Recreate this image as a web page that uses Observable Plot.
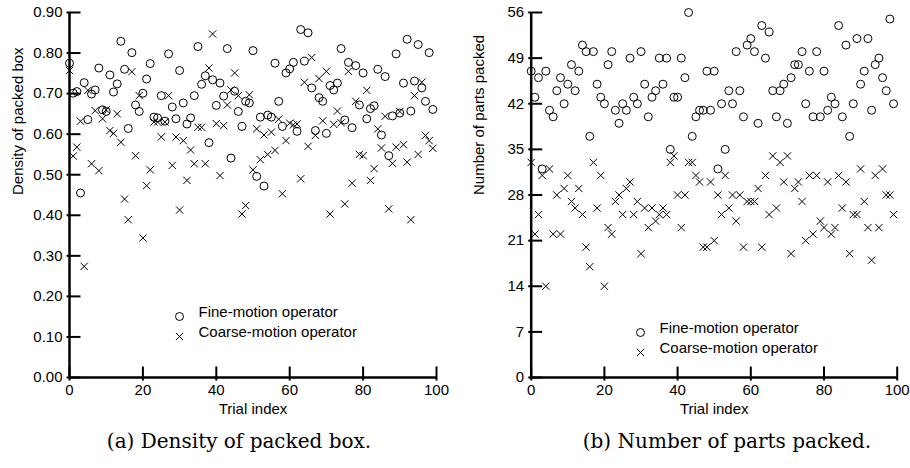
<!DOCTYPE html>
<html><head><meta charset="utf-8">
<script src="https://cdn.jsdelivr.net/npm/d3@7"></script>
<script src="https://cdn.jsdelivr.net/npm/@observablehq/plot@0.6"></script>
<style>
body{margin:0;background:#fff;}
#wrap{position:relative;width:910px;height:468px;overflow:hidden;background:#fff;}
.panel{position:absolute;top:0;}
.cap{position:absolute;top:429px;font-family:"DejaVu Serif",serif;font-size:20px;line-height:24px;white-space:nowrap;transform:translateX(-50%);color:#000;}
</style></head>
<body>
<div id="wrap">
  <div id="pa" class="panel" style="left:0"></div>
  <div id="pb" class="panel" style="left:455px"></div>
  <div class="cap" style="left:239px">(a) Density of packed box.</div>
  <div class="cap" style="left:727px">(b) Number of parts packed.</div>
</div>
<script>
// ---- data ----
const trialIndex = [0,1,2,3,4,5,6,7,8,9,10,11,12,13,14,15,16,17,18,19,20,21,22,23,24,25,26,27,28,29,30,31,32,33,34,35,36,37,38,39,40,41,42,43,44,45,46,47,48,49,50,51,52,53,54,55,56,57,58,59,60,61,62,63,64,65,66,67,68,69,70,71,72,73,74,75,76,77,78,79,80,81,82,83,84,85,86,87,88,89,90,91,92,93,94,95,96,97,98,99];

const densityFine = [
 0.775,0.701,0.705,0.455,0.727,0.636,0.699,0.709,0.763,0.660,
 0.656,0.746,0.704,0.724,0.829,0.760,0.614,0.801,0.672,0.656,
 0.701,0.736,0.774,0.642,0.640,0.695,0.632,0.798,0.667,0.638,
 0.757,0.677,0.625,0.640,0.695,0.816,0.723,0.744,0.579,0.734,
 0.671,0.726,0.694,0.811,0.541,0.706,0.656,0.619,0.681,0.677,
 0.806,0.496,0.642,0.472,0.647,0.642,0.775,0.681,0.619,0.751,
 0.761,0.777,0.607,0.858,0.780,0.850,0.714,0.609,0.690,0.681,
 0.602,0.720,0.709,0.726,0.811,0.635,0.777,0.616,0.769,0.672,
 0.751,0.638,0.663,0.670,0.760,0.598,0.742,0.547,0.645,0.798,
 0.652,0.726,0.834,0.657,0.731,0.821,0.714,0.681,0.801,0.661];

const densityCoarse = [
 0.757,0.546,0.568,0.632,0.274,0.708,0.527,0.658,0.510,0.638,
 0.660,0.609,0.602,0.650,0.580,0.440,0.389,0.754,0.547,0.695,
 0.344,0.473,0.512,0.630,0.630,0.593,0.630,0.695,0.523,0.593,
 0.413,0.584,0.486,0.561,0.527,0.617,0.617,0.527,0.763,0.847,
 0.626,0.498,0.621,0.672,0.709,0.751,0.695,0.403,0.424,0.697,
 0.512,0.613,0.537,0.598,0.550,0.605,0.560,0.637,0.453,0.584,
 0.627,0.623,0.625,0.490,0.728,0.570,0.789,0.597,0.737,0.633,
 0.755,0.403,0.624,0.657,0.628,0.428,0.755,0.479,0.681,0.550,
 0.547,0.708,0.486,0.515,0.613,0.566,0.644,0.416,0.528,0.568,
 0.656,0.574,0.531,0.389,0.695,0.550,0.728,0.597,0.584,0.565];

const partsFine = [
 47,43,46,32,47,41,40,44,46,42,
 45,48,44,47,51,50,37,50,45,43,
 42,48,50,41,39,42,41,49,43,42,
 50,45,40,43,44,49,45,49,35,43,
 43,49,46,56,37,40,41,41,47,41,
 47,32,42,35,44,42,50,44,40,51,
 52,50,39,54,49,53,44,40,44,45,
 39,46,48,48,50,42,47,40,50,40,
 47,41,43,42,54,40,51,37,42,52,
 45,47,52,41,48,49,46,44,55,42];

const partsCoarse = [
 33,22,25,31,14,32,22,28,22,29,
 31,27,26,29,25,20,17,33,26,31,
 14,23,22,27,28,25,29,30,25,27,
 19,26,23,26,24,25,26,25,33,34,
 28,23,28,33,33,31,30,20,20,30,
 21,28,25,31,26,28,24,28,20,27,
 27,27,29,20,31,25,34,26,33,30,
 34,19,29,30,27,21,31,22,31,24,
 23,30,22,23,31,26,30,19,25,25,
 32,27,23,18,31,23,32,28,28,25];

const xTicks = [0,20,40,60,80,100];
const densityTicks = [0,0.1,0.2,0.3,0.4,0.5,0.6,0.7,0.8,0.9];
const partsTicks = [0,7,14,21,28,35,42,49,56];
const legendLabels = ["Fine-motion operator","Coarse-motion operator"];
const xTitle = "Trial index";
const yTitleA = "Density of packed box";
const yTitleB = "Number of parts packed";

// ---- drawing ----
const W = 455, H = 425, MT = 12, MB = 48, TICK = 11, OUT = 3;

function panel({fine, coarse, yDomain, yTicks, yFormat, yTitle, mLeft, mRight, titleDx, legDx, legDy1, legDy2, textDx}) {
  const rows = trialIndex.map((t, i) => ({t, fine: fine[i], coarse: coarse[i]}));
  const xDomain = [xTicks[0], xTicks[xTicks.length - 1]];
  const frameW = W - mLeft - mRight, frameH = H - MT - MB;
  const xPerPx = (xDomain[1] - xDomain[0]) / frameW;
  const yPerPx = (yDomain[1] - yDomain[0]) / frameH;
  return Plot.plot({
    width: W, height: H,
    marginLeft: mLeft, marginRight: mRight, marginTop: MT, marginBottom: MB,
    x: {domain: xDomain},
    y: {domain: yDomain},
    style: {fontFamily: "'Liberation Sans', Arial, sans-serif", fontSize: "15px", color: "black", background: "white", overflow: "visible"},
    marks: [
      Plot.axisY({ticks: yTicks, tickSize: 0, tickPadding: 7, tickFormat: yFormat, label: null}),
      Plot.axisX({ticks: xTicks, tickSize: 0, tickPadding: 7, label: null}),
      Plot.ruleX([xDomain[0]], {stroke: "black", strokeWidth: 2.5}),
      Plot.ruleY([yDomain[0]], {stroke: "black", strokeWidth: 2.5}),
      Plot.link(yTicks, {x1: () => xDomain[0] - OUT * xPerPx, x2: () => xDomain[0] + TICK * xPerPx, y1: d => d, y2: d => d, stroke: "black", strokeWidth: 2}),
      Plot.link(xTicks, {x1: d => d, x2: d => d, y1: () => yDomain[0] - OUT * yPerPx, y2: () => yDomain[0] + TICK * yPerPx, stroke: "black", strokeWidth: 2}),
      Plot.dot(rows, {x: "t", y: "fine", symbol: "circle", r: 4, stroke: "black", strokeWidth: 1, fill: "none"}),
      Plot.dot(rows, {x: "t", y: "coarse", symbol: "times", r: 3.4, stroke: "black", strokeWidth: 1}),
      Plot.text([xTitle], {text: d => d, frameAnchor: "bottom", dy: 36, fill: "black"}),
      Plot.text([yTitle], {text: d => d, frameAnchor: "left", rotate: -90, dx: titleDx, fill: "black"}),
      Plot.dot([legendLabels[0]], {frameAnchor: "bottom-left", dx: legDx, dy: legDy1, symbol: "circle", r: 4, stroke: "black", strokeWidth: 1, fill: "none"}),
      Plot.dot([legendLabels[1]], {frameAnchor: "bottom-left", dx: legDx, dy: legDy2, symbol: "times", r: 3.4, stroke: "black", strokeWidth: 1}),
      Plot.text([legendLabels[0]], {text: d => d, frameAnchor: "bottom-left", dx: textDx, dy: legDy1, textAnchor: "start", fill: "black"}),
      Plot.text([legendLabels[1]], {text: d => d, frameAnchor: "bottom-left", dx: textDx, dy: legDy2, textAnchor: "start", fill: "black"})
    ]
  });
}

document.getElementById("pa").append(panel({
  fine: densityFine, coarse: densityCoarse, yDomain: [0, 0.9], yTicks: densityTicks,
  yFormat: d3.format(".2f"), yTitle: yTitleA, mLeft: 69, mRight: 19, titleDx: -51,
  legDx: 110, legDy1: -61, legDy2: -41, textDx: 129
}));
document.getElementById("pb").append(panel({
  fine: partsFine, coarse: partsCoarse, yDomain: [0, 56], yTicks: partsTicks,
  yFormat: d3.format("d"), yTitle: yTitleB, mLeft: 75.7, mRight: 13.3, titleDx: -52.4,
  legDx: 109.3, legDy1: -45, legDy2: -25, textDx: 128.3
}));
</script>
</body></html>
